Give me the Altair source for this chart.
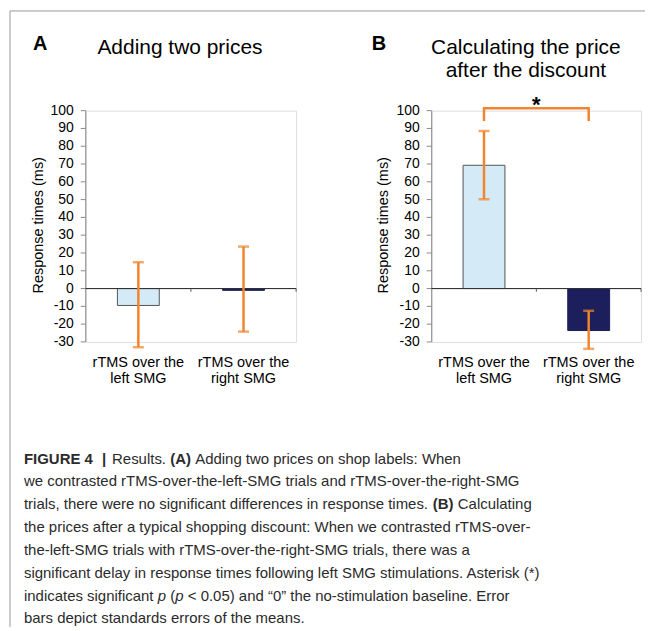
import altair as alt
import pandas as pd

# ---------------- data ----------------
categories = ["left SMG", "right SMG"]
label_prefix = "rTMS over the"

a_means = [-9.5, -1.0]
a_lo = [-33.0, -24.2]
a_hi = [14.8, 23.6]

b_means = [69.3, -23.6]
b_lo = [50.2, -33.9]
b_hi = [88.6, -12.5]

y_ticks = [-30, -20, -10, 0, 10, 20, 30, 40, 50, 60, 70, 80, 90, 100]
y_tick_labels = ["-30", "-20", "-10", "0", "10", "20", "30", "40", "50", "60", "70", "80", "90", "100"]
sig_bracket_y = [94.2, 101.4, 101.4, 94.2]
sig_bracket_cat = ["left SMG", "left SMG", "right SMG", "right SMG"]
asterisk_y = 99

panel_letters = ["A", "B"]
panel_titles = [["Adding two prices"], ["Calculating the price", "after the discount"]]
y_title = "Response times (ms)"

# caption: each line is a list of (text, weight, style, gap_before_px)
caption_lines = [
    [("FIGURE 4", "bold", "normal", 0), ("|", "bold", "normal", 9), ("Results.", "normal", "normal", 6),
     ("(A)", "bold", "normal", 4.2), ("Adding two prices on shop labels: When", "normal", "normal", 4.2)],
    [("we contrasted rTMS-over-the-left-SMG trials and rTMS-over-the-right-SMG", "normal", "normal", 0)],
    [("trials, there were no significant differences in response times.", "normal", "normal", 0),
     ("(B)", "bold", "normal", 4.2), ("Calculating", "normal", "normal", 4.2)],
    [("the prices after a typical shopping discount: When we contrasted rTMS-over-", "normal", "normal", 0)],
    [("the-left-SMG trials with rTMS-over-the-right-SMG trials, there was a", "normal", "normal", 0)],
    [("significant delay in response times following left SMG stimulations. Asterisk (*)", "normal", "normal", 0)],
    [("indicates significant", "normal", "normal", 0), ("p", "normal", "italic", 4.2),
     ("(", "normal", "normal", 4.2), ("p", "normal", "italic", 0),
     ("< 0.05) and \u201c0\u201d the no-stimulation baseline. Error", "normal", "normal", 4.2)],
    [("bars depict standards errors of the means.", "normal", "normal", 0)],
]

FONT = "Liberation Sans"
ORANGE = "#f0852d"
LIGHT = "#d5eaf7"
NAVY = "#1c1f5b"
AXIS_GREY = "#8a8a8a"
CAP_COLOR = "#2b2b2b"
CAP_SIZE = 15
PH = 232

# Arial/Liberation Sans advance widths (per 1000 em) for caption layout
_W = dict(zip("abcdefghijklmnopqrstuvwxyz",
              [556, 556, 500, 556, 556, 278, 556, 556, 222, 222, 500, 222, 833,
               556, 556, 556, 556, 333, 500, 278, 556, 500, 722, 500, 500, 500]))
_W.update(dict(zip("ABCDEFGHIJKLMNOPQRSTUVWXYZ",
                   [667, 667, 722, 722, 667, 611, 778, 722, 278, 500, 667, 556, 833,
                    722, 778, 667, 778, 722, 667, 611, 722, 667, 944, 667, 667, 611])))
_W.update({d: 556 for d in "0123456789"})
_W.update({" ": 278, ",": 278, ".": 278, "-": 333, ":": 278, "(": 333, ")": 333,
           "*": 389, "<": 584, "\u201c": 333, "\u201d": 333, "|": 260})
_WB = dict(_W)
_WB.update({"A": 722, "B": 722, "R": 722, "U": 722, "|": 280, "F": 611, "G": 778, "E": 667, "I": 278})


def text_w(s, weight):
    tbl = _WB if weight == "bold" else _W
    return sum(tbl.get(c, 556) for c in s) * CAP_SIZE / 1000.0


def panel(means, lo, hi, letter, title_lines, width, extra=None, ytx=-42.5, letter_x=-53):
    df = pd.DataFrame({"cat": categories, "mean": means, "lo": lo, "hi": hi})
    base = alt.Chart(df)
    x_enc = alt.X(
        "cat:N",
        sort=categories,
        scale=alt.Scale(paddingInner=0, paddingOuter=0),
        axis=alt.Axis(
            title=None, domain=False, ticks=False, labelAngle=0,
            labelPadding=13.5, labelFontSize=14.5, labelFont=FONT,
            labelColor="black", labelLineHeight=16, labelOverlap=False,
            labelExpr="['" + label_prefix + "', datum.label]",
        ),
    )
    bars = base.mark_bar(size=42, strokeWidth=1).encode(
        x=x_enc,
        y=alt.Y("mean:Q", scale=alt.Scale(domain=[-30, 100], nice=False), axis=None),
        color=alt.Color("cat:N", scale=alt.Scale(domain=categories, range=[LIGHT, NAVY]), legend=None),
        stroke=alt.Stroke("cat:N", scale=alt.Scale(domain=categories, range=["#555555", NAVY]), legend=None),
    )
    # hand-made y axis driven by the y scale
    tdf = pd.DataFrame({"v": y_ticks, "lab": y_tick_labels})
    tb = alt.Chart(tdf)
    y_dom = tb.mark_rule(color=AXIS_GREY, strokeWidth=1).encode(
        x=alt.value(0), y=alt.Y("min(v):Q", axis=None), y2="max(v):Q")
    y_tk = tb.mark_rule(color=AXIS_GREY, strokeWidth=1).encode(
        x=alt.value(-5), x2=alt.value(0), y=alt.Y("v:Q", axis=None))
    y_lb = tb.mark_text(font=FONT, fontSize=14, align="right", baseline="middle",
                        color="black").encode(
        x=alt.value(-12), y=alt.Y("v:Q", axis=None), text="lab:N")

    zdf = pd.DataFrame({"cat": categories, "z": [0, 0], "zt": [-1.8, -1.8]})
    zb = alt.Chart(zdf)
    zero = zb.mark_rule(color="#333333", strokeWidth=1).encode(
        x=alt.value(0), x2=alt.value(width), y=alt.Y("z:Q", axis=None))
    bticks = zb.mark_rule(color="#555555", strokeWidth=1).encode(
        x=alt.X("cat:N", sort=categories, bandPosition=1), y=alt.Y("z:Q", axis=None), y2="zt:Q"
    )
    err = base.mark_rule(color=ORANGE, strokeWidth=2.5).encode(
        x=alt.X("cat:N", sort=categories), y=alt.Y("lo:Q", axis=None), y2="hi:Q"
    )
    cap_lo = base.mark_tick(color=ORANGE, thickness=2.5, size=11).encode(
        x=alt.X("cat:N", sort=categories), y=alt.Y("lo:Q", axis=None)
    )
    cap_hi = base.mark_tick(color=ORANGE, thickness=2.5, size=11).encode(
        x=alt.X("cat:N", sort=categories), y=alt.Y("hi:Q", axis=None)
    )
    one = alt.Chart(pd.DataFrame({"k": [0]}))
    let = one.mark_text(font=FONT, fontSize=20, fontWeight="bold", align="left",
                        baseline="alphabetic", color="black").encode(
        x=alt.value(letter_x), y=alt.value(-61), text=alt.value(letter))
    ttl = one.mark_text(font=FONT, fontSize=21, align="center", baseline="alphabetic",
                        lineHeight=23, color="black").encode(
        x=alt.value(94.5), y=alt.value(-56.5), text=alt.value(title_lines))
    yt = one.mark_text(font=FONT, fontSize=14.5, align="center", baseline="alphabetic",
                       angle=270, color="black").encode(
        x=alt.value(ytx), y=alt.value(115), text=alt.value(y_title))
    layers = [bars, y_dom, y_tk, y_lb, zero, bticks, err, cap_lo, cap_hi, let, ttl, yt]
    if extra:
        layers += extra
    return alt.layer(*layers).properties(width=width, height=PH)


# ---- panel A extras: frame lines and caption ----
one = alt.Chart(pd.DataFrame({"k": [0]}))
frame_top = one.mark_rule(color="#9a9a9a", strokeWidth=1).encode(
    x=alt.value(-76), x2=alt.value(561), y=alt.value(-100))
frame_left = one.mark_rule(color="#9a9a9a", strokeWidth=1).encode(
    x=alt.value(-76), y=alt.value(-100), y2=alt.value(518))

LH = 22.9
Y0 = 354
X0 = 23 - 85

caption = []
for li, segs in enumerate(caption_lines):
    cx = X0
    for txt, weight, style, gap in segs:
        cx += gap
        caption.append(
            one.mark_text(font=FONT, fontSize=CAP_SIZE, fontWeight=weight, fontStyle=style,
                          align="left", baseline="alphabetic", color=CAP_COLOR).encode(
                x=alt.value(cx), y=alt.value(Y0 + LH * li), text=alt.value(txt))
        )
        cx += text_w(txt, weight)

# ---- panel B extras: significance bracket ----
bdf = pd.DataFrame({"o": [0, 1, 2, 3], "cat": sig_bracket_cat, "y": sig_bracket_y})
bracket = alt.Chart(bdf).mark_line(color=ORANGE, strokeWidth=2.5).encode(
    x=alt.X("cat:N", sort=categories), y=alt.Y("y:Q", axis=None), order="o:Q")
adf = pd.DataFrame({"cat": ["left SMG"], "y": [asterisk_y], "t": ["*"]})
aster = alt.Chart(adf).mark_text(font=FONT, fontSize=22, fontWeight="bold",
                                 baseline="alphabetic", color="black").encode(
    x=alt.X("cat:N", sort=categories, bandPosition=1), y=alt.Y("y:Q", axis=None), text="t:N")

pa = panel(a_means, a_lo, a_hi, panel_letters[0], panel_titles[0], 211,
           extra=[frame_top, frame_left] + caption, ytx=-42.5, letter_x=-53)
pb = panel(b_means, b_lo, b_hi, panel_letters[1], panel_titles[1], 210,
           extra=[bracket, aster], ytx=-44, letter_x=-60)

chart = alt.hconcat(pa, pb, spacing=136, bounds="flush").properties(
    padding={"left": 1, "top": 1, "right": 1, "bottom": 1}
).configure_view(stroke=None).configure(background="white")

chart.save("out.html", embed_options={"renderer": "svg", "actions": False})
